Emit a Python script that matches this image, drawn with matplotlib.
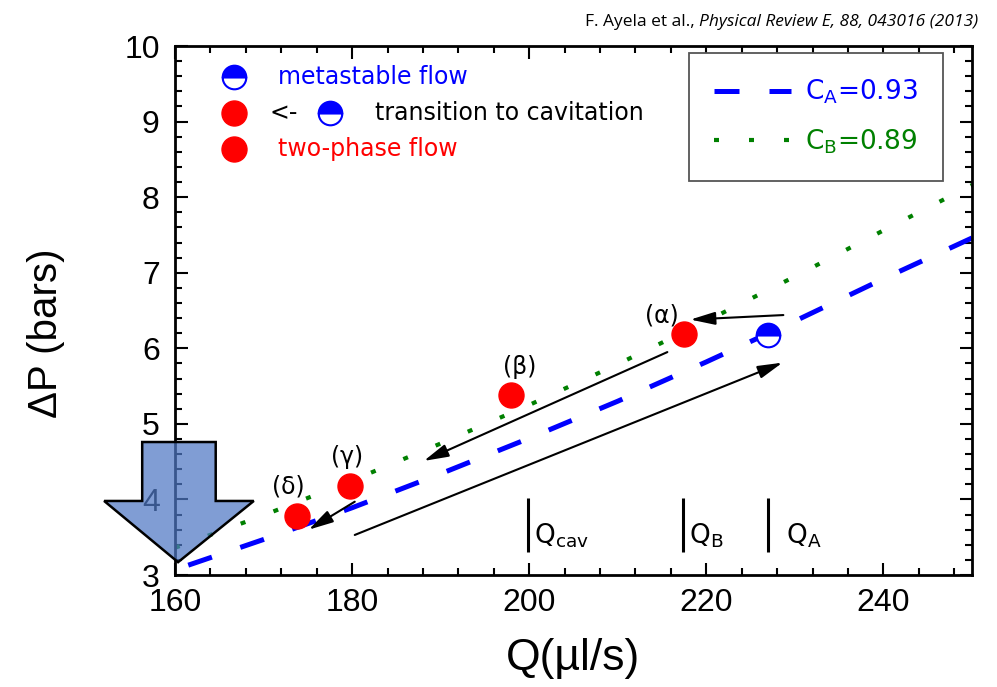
import matplotlib
matplotlib.use("Agg")
import matplotlib.pyplot as plt
from matplotlib.patches import Polygon
from matplotlib.ticker import MultipleLocator

# fitted pressure-drop curves, read at a few flow rates
q_a = [161.5, 170, 180, 190, 200, 210, 220, 230, 240, 250]
dp_a = [3.13, 3.47, 3.89, 4.34, 4.81, 5.30, 5.82, 6.36, 6.92, 7.46]
q_b = [160, 170, 180, 190, 200, 210, 220, 230, 240, 250]
dp_b = [3.36, 3.79, 4.25, 4.74, 5.25, 5.79, 6.36, 6.95, 7.56, 8.16]

# measured points
q_meta = [227.0]
dp_meta = [6.17]
q_two = [217.5, 197.9, 179.8, 173.8]
dp_two = [6.19, 5.38, 4.18, 3.78]
greek = ["(α)", "(β)", "(γ)", "(δ)"]
q_greek = [215.0, 198.9, 179.4, 172.8]
dp_greek = [6.44, 5.75, 4.56, 4.17]

# hysteresis arrows: (q_start, dp_start, q_end, dp_end)
arrows = [
    (228.7, 6.44, 218.2, 6.38),
    (215.6, 5.95, 188.1, 4.51),
    (180.3, 3.53, 228.6, 5.81),
    (180.3, 3.97, 175.1, 3.60),
]

# threshold flow rates
q_thr = [199.9, 217.4, 227.0]
thr_names = ["Q$_{\\mathregular{cav}}$", "Q$_{\\mathregular{B}}$", "Q$_{\\mathregular{A}}$"]
q_thr_text = [200.5, 218.0, 229.0]

# big block arrow outline on the left
big_q = [156.3, 164.6, 164.6, 168.9, 160.35, 152.0, 156.3]
big_dp = [4.76, 4.76, 3.98, 3.98, 3.17, 3.98, 3.98]

fig = plt.figure(figsize=(9.97, 6.87), dpi=100)
ax = fig.add_axes([0.1755, 0.163, 0.7994, 0.770])

ax.plot(q_a, dp_a, color="#0000ff", lw=3.6, dashes=(5, 6), label="C$_{\\mathregular{A}}$=0.93", zorder=2)
ax.plot(q_b, dp_b, color="#008000", lw=3.0, dashes=(1.2, 7.2), label="C$_{\\mathregular{B}}$=0.89", zorder=2)

for qs, ps, qe, pe in arrows:
    ax.annotate("", xy=(qe, pe), xytext=(qs, ps),
                arrowprops=dict(arrowstyle="-|>,head_length=0.5,head_width=0.13",
                                mutation_scale=30, color="black", lw=1.5,
                                shrinkA=0, shrinkB=0), zorder=3)

ax.plot(q_two, dp_two, "o", color="#ff0000", ms=18, mec="#ff0000", zorder=4)
ax.plot(q_meta, dp_meta, "o", ms=17, fillstyle="top", mfc="#0000ff", mfcalt="white",
        mec="#0000ff", mew=1.5, zorder=4)

for q, p, s in zip(q_greek, dp_greek, greek):
    ax.text(q, p, s, fontsize=17, ha="center", va="center", zorder=4)

ax.vlines(q_thr, 3.30, 4.02, color="black", lw=2.2)
for q, s in zip(q_thr_text, thr_names):
    ax.text(q, 3.42, s, fontsize=19, ha="left", va="baseline")

# left legend, drawn by hand
tr = ax.transAxes
half = dict(fillstyle="top", mfc="#0000ff", mfcalt="white", mec="#0000ff", mew=1.5,
            ms=17, transform=tr, clip_on=False)
ax.plot([0.074], [0.941], "o", **half)
ax.text(0.129, 0.941, "metastable flow", color="#0000ff", fontsize=17, va="center", transform=tr)
ax.plot([0.074], [0.873], "o", ms=18, color="#ff0000", transform=tr, clip_on=False)
ax.text(0.119, 0.873, "<-", fontsize=17, va="center", transform=tr)
ax.plot([0.1945], [0.873], "o", **half)
ax.text(0.251, 0.873, "transition to cavitation", fontsize=17, va="center", transform=tr)
ax.plot([0.074], [0.805], "o", ms=18, color="#ff0000", transform=tr, clip_on=False)
ax.text(0.129, 0.805, "two-phase flow", color="#ff0000", fontsize=17, va="center", transform=tr)

leg = ax.legend(loc="upper right", bbox_to_anchor=(0.9636, 0.987), fontsize=19,
                handlelength=2.9, handletextpad=0.55, borderpad=0.95, labelspacing=0.8,
                fancybox=False, framealpha=1, edgecolor="#555555", labelcolor="linecolor",
                borderaxespad=0)
leg.get_frame().set_linewidth(1.3)

ax.add_patch(Polygon(list(zip(big_q, big_dp)), closed=True, facecolor=(0.31, 0.47, 0.77, 0.72),
                     edgecolor="black", lw=1.8, clip_on=False, zorder=5))

ax.set_xlim(160, 250)
ax.set_ylim(3, 10)
ax.xaxis.set_major_locator(MultipleLocator(20))
ax.xaxis.set_minor_locator(MultipleLocator(4))
ax.yaxis.set_major_locator(MultipleLocator(1))
ax.yaxis.set_minor_locator(MultipleLocator(0.2))
ax.tick_params(which="both", direction="in", top=True, right=True, width=1.5)
ax.tick_params(which="major", length=9)
ax.tick_params(which="minor", length=5)
ax.tick_params(axis="x", pad=9)
ax.tick_params(axis="y", pad=11)
for lab in ax.get_xticklabels() + ax.get_yticklabels():
    lab.set_fontfamily("Liberation Sans")
    lab.set_fontsize(23)
for sp in ax.spines.values():
    sp.set_linewidth(2)

ax.set_xlabel("Q(µl/s)", fontsize=32, family="Liberation Sans")
ax.set_ylabel("ΔP (bars)", fontsize=29, family="Liberation Sans")
ax.xaxis.set_label_coords(0.5, -0.119)
ax.yaxis.set_label_coords(-0.138, 0.457)

# citation in the top right corner
cite = fig.text(978 / 997, 1 - 22 / 687, "Physical Review E, 88, 043016 (2013)",
                fontsize=12.5, family="Open Sans", style="italic", ha="right", va="center")
fig.canvas.draw()
bb = cite.get_window_extent()
fig.text(bb.x0 / fig.bbox.width, 1 - 22 / 687, "F. Ayela et al., ",
         fontsize=12.5, family="Open Sans", ha="right", va="center")

fig.savefig("out.png", dpi=100)
